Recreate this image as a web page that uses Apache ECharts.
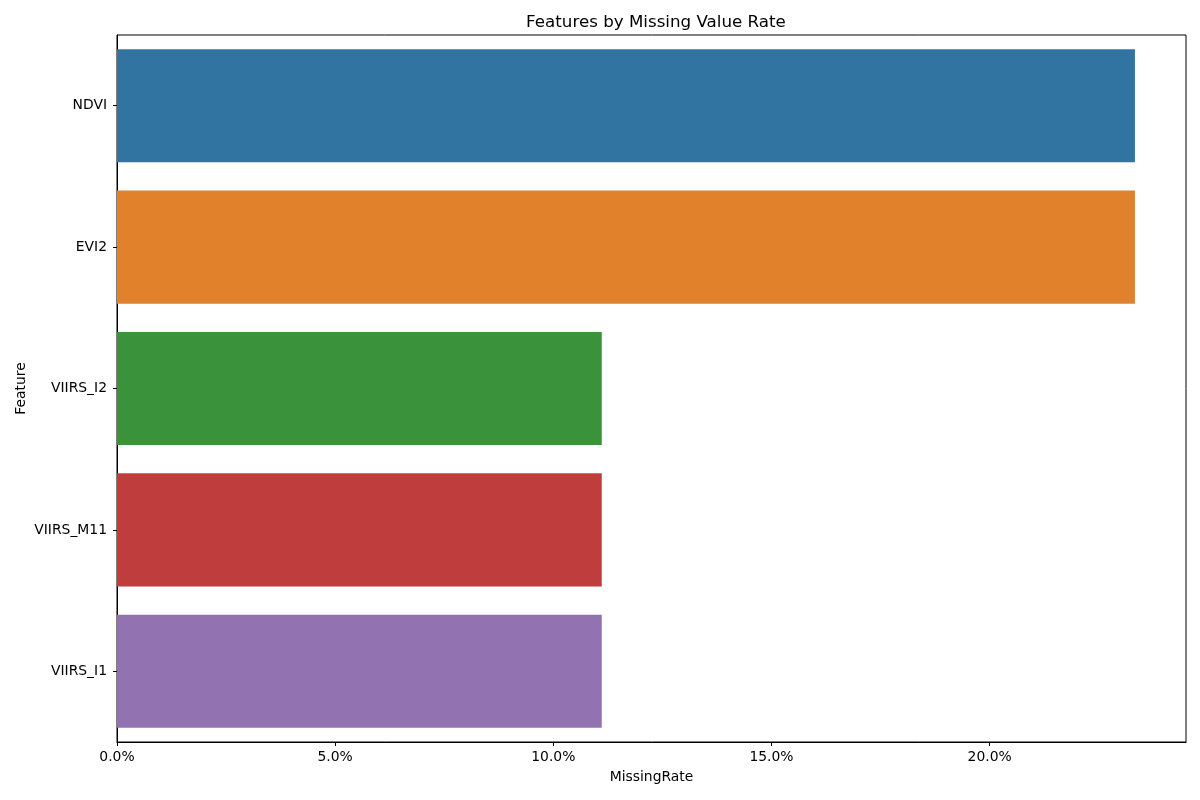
<!DOCTYPE html>
<html>
<head>
<meta charset="utf-8">
<script src="https://cdn.jsdelivr.net/npm/echarts@6/dist/echarts.min.js"></script>
<style>
  html, body { margin: 0; padding: 0; background: #fff; }
  #chart { width: 1200px; height: 800px; }
</style>
</head>
<body>
<div id="chart"></div>
<script>
// feature names, top to bottom
var features = ['NDVI', 'EVI2', 'VIIRS_I2', 'VIIRS_M11', 'VIIRS_I1'];
// missing value rate (fraction)
var missingRate = [0.2333, 0.2333, 0.1111, 0.1111, 0.1111];
var barColors = ['#3274a1', '#e1812c', '#3a923a', '#c03d3e', '#9372b2'];

var font = 'DejaVu Sans';
var myChart = echarts.init(document.getElementById('chart'));

myChart.setOption({
  backgroundColor: '#fff',
  animation: false,
  title: {
    text: 'Features by Missing Value Rate',
    left: 651,
    textAlign: 'center',
    top: 9,
    textStyle: { fontFamily: font, fontSize: 16.7, fontWeight: 'normal', color: '#000' }
  },
  grid: {
    left: 117, right: 14, top: 35, bottom: 58,
    show: true, borderColor: '#000', borderWidth: 1, backgroundColor: 'transparent'
  },
  xAxis: {
    type: 'value',
    min: 0,
    max: 0.245,
    interval: 0.05,
    name: 'MissingRate',
    nameLocation: 'middle',
    nameGap: 28,
    nameTextStyle: { fontFamily: font, fontSize: 13.9, color: '#000' },
    axisLine: { show: true, lineStyle: { color: '#000' } },
    axisTick: { show: true, length: 4, lineStyle: { color: '#000' } },
    splitLine: { show: false },
    axisLabel: {
      fontFamily: font, fontSize: 13.9, color: '#000', margin: 8,
      showMaxLabel: false,
      formatter: function (v) { return (v * 100).toFixed(1) + '%'; }
    }
  },
  yAxis: {
    type: 'category',
    data: features,
    inverse: true,
    name: 'Feature',
    nameLocation: 'middle',
    nameGap: 89,
    nameMoveOverlap: false,
    nameRotate: 90,
    nameTextStyle: { fontFamily: font, fontSize: 13.9, color: '#000' },
    axisLine: { show: true, lineStyle: { color: '#000' } },
    axisTick: { show: true, length: 4, alignWithLabel: true, lineStyle: { color: '#000' } },
    axisLabel: { fontFamily: font, fontSize: 13.9, color: '#000', margin: 10, padding: [3, 0, 0, 0] }
  },
  series: [{
    type: 'bar',
    data: missingRate.map(function (v, i) {
      return { value: v, itemStyle: { color: barColors[i] } };
    }),
    barCategoryGap: '20%'
  }]
});
</script>
</body>
</html>
